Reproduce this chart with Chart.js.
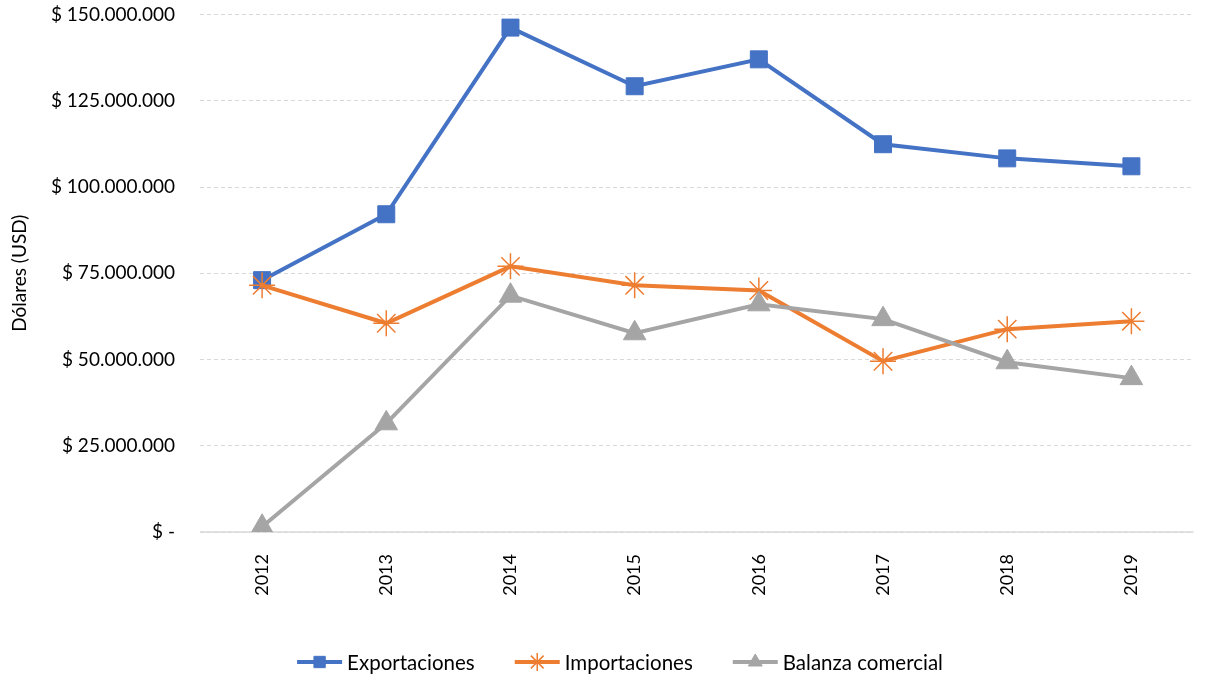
<!DOCTYPE html>
<html>
<head>
<meta charset="utf-8">
<script src="https://cdn.jsdelivr.net/npm/chart.js@4/dist/chart.umd.min.js"></script>
<style>
  html, body { margin: 0; padding: 0; background: #fff; overflow: hidden; }
  #wrap { width: 1208px; height: 679px; position: relative; }
  canvas { display: block; }
</style>
</head>
<body>
<div id="wrap"><canvas id="chart"></canvas></div>
<script>
// Balanza comercial 2012-2019 (USD)
const years = ['2012', '2013', '2014', '2015', '2016', '2017', '2018', '2019'];
const exportaciones = [73000000, 92100000, 146200000, 129200000, 137000000, 112400000, 108300000, 106000000];
const importaciones = [71500000, 60500000, 77000000, 71500000, 70000000, 49500000, 58800000, 61100000];
const balanza = [1500000, 31500000, 68500000, 57600000, 66000000, 61700000, 49200000, 44600000];

const FONT = 'Lato';

function fmtMoney(v) {
    if (v === 0) return '$ -';
    return '$ ' + String(Math.round(v)).replace(/\B(?=(\d{3})+(?!\d))/g, '.');
}

// no auto padding from labels: the plot area is placed by layout.padding only
function noPadding(scale) {
    scale.paddingTop = 0;
    scale.paddingBottom = 0;
    scale.paddingLeft = 0;
    scale.paddingRight = 0;
}

// solid baseline at zero (other gridlines are dashed)
const zeroLine = {
    id: 'zeroLine',
    beforeDatasetsDraw(chart) {
        const { ctx, chartArea } = chart;
        const y = chart.scales.y.getPixelForValue(0);
        ctx.save();
        ctx.strokeStyle = '#D9D9D9';
        ctx.lineWidth = 1.5;
        ctx.beginPath();
        ctx.moveTo(chartArea.left, y);
        ctx.lineTo(chartArea.right, y);
        ctx.stroke();
        ctx.restore();
    }
};

// spreadsheet style legend: line segment with marker, then label
const lineLegend = {
    id: 'lineLegend',
    afterDraw(chart) {
        const ctx = chart.ctx;
        const sets = chart.data.datasets;
        const lineW = 45, gapText = 5, gapItem = 40;
        ctx.save();
        ctx.font = '20.5px ' + FONT;
        const widths = sets.map(ds => lineW + gapText + ctx.measureText(ds.label).width);
        const total = widths.reduce((a, b) => a + b, 0) + gapItem * (sets.length - 1);
        let x = 620 - total / 2;
        const y = 662;
        sets.forEach((ds, i) => {
            ctx.strokeStyle = ds.borderColor;
            ctx.lineWidth = 4;
            ctx.beginPath();
            ctx.moveTo(x, y);
            ctx.lineTo(x + lineW, y);
            ctx.stroke();
            ctx.fillStyle = ds.pointBackgroundColor;
            ctx.strokeStyle = ds.pointBorderColor;
            ctx.lineWidth = ds.pointBorderWidth;
            Chart.helpers.drawPoint(ctx, { pointStyle: ds.pointStyle, radius: ds.legendRadius, borderWidth: ds.pointBorderWidth }, x + lineW / 2, y);
            ctx.fillStyle = '#000';
            ctx.textBaseline = 'middle';
            ctx.textAlign = 'left';
            ctx.fillText(ds.label, x + lineW + gapText, y + 1);
            x += widths[i] + gapItem;
        });
        ctx.restore();
    }
};

new Chart(document.getElementById('chart'), {
    type: 'line',
    data: {
        labels: years,
        datasets: [{
            label: 'Exportaciones',
            data: exportaciones,
            borderColor: '#4472C4',
            backgroundColor: '#4472C4',
            borderWidth: 4,
            pointStyle: 'rect',
            pointRadius: 12,
            legendRadius: 8,
            pointBackgroundColor: '#4472C4',
            pointBorderColor: '#4472C4',
            pointBorderWidth: 1,
            order: 3
        }, {
            label: 'Importaciones',
            data: importaciones,
            borderColor: '#ED7D31',
            backgroundColor: '#ED7D31',
            borderWidth: 4,
            pointStyle: 'star',
            pointRadius: 13,
            legendRadius: 9,
            pointBackgroundColor: '#ED7D31',
            pointBorderColor: '#ED7D31',
            pointBorderWidth: 1.5,
            order: 2
        }, {
            label: 'Balanza comercial',
            data: balanza,
            borderColor: '#A5A5A5',
            backgroundColor: '#A5A5A5',
            borderWidth: 4,
            pointStyle: 'triangle',
            pointRadius: 13,
            legendRadius: 8,
            pointBackgroundColor: '#A5A5A5',
            pointBorderColor: '#A5A5A5',
            pointBorderWidth: 1,
            order: 1
        }]
    },
    options: {
        responsive: true,
        maintainAspectRatio: false,
        animation: false,
        layout: { padding: { top: 14, right: -20, bottom: 72, left: 0 } },
        plugins: {
            legend: { display: false },
            tooltip: { enabled: false }
        },
        scales: {
            x: {
                offset: true,
                grid: { display: false, drawTicks: false },
                border: { display: false },
                ticks: {
                    color: '#000',
                    font: { family: FONT, size: 18 },
                    maxRotation: 90,
                    minRotation: 90,
                    padding: 22
                },
                afterFit(scale) {
                    scale.height = 75;
                    noPadding(scale);
                }
            },
            y: {
                min: 0,
                max: 150000000,
                title: {
                    display: true,
                    text: 'Dólares (USD)',
                    color: '#000',
                    font: { family: FONT, size: 19 },
                    padding: { top: 8, bottom: 0 }
                },
                grid: {
                    drawTicks: false,
                    lineWidth: 1,
                    color: '#D9D9D9'
                },
                border: { display: false, dash: [4, 3] },
                ticks: {
                    stepSize: 25000000,
                    color: '#000',
                    font: { family: FONT, size: 19 },
                    padding: 25,
                    callback: v => fmtMoney(v)
                },
                afterFit(scale) {
                    scale.width = 200;
                    noPadding(scale);
                }
            }
        }
    },
    plugins: [zeroLine, lineLegend]
});
</script>
</body>
</html>
